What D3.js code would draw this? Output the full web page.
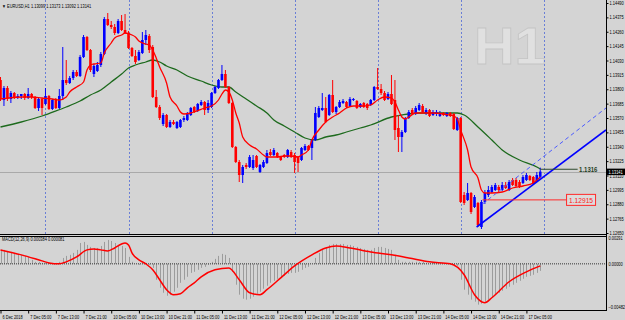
<!DOCTYPE html>
<html>
<head>
<meta charset="utf-8">
<script src="https://cdn.jsdelivr.net/npm/d3@7"></script>
<style>
  html, body { margin: 0; padding: 0; background: #d4d4d4; }
  svg { display: block; font-family: "Liberation Sans", Arial, sans-serif; }
</style>
</head>
<body>
<svg id="chart" width="625" height="320"></svg>
<script>
// EURUSD H1 bars, 6 Dec 21:00 .. 17 Dec 09:00 (bar index 0..156)
const openP = [1.13874,1.13714,1.13810,1.13722,1.13770,1.13738,1.13746,1.13762,1.13730,1.13762,
  1.13738,1.13650,1.13722,1.13682,1.13746,1.13642,1.13714,1.13650,1.13746,1.13874,
  1.13850,1.13890,1.13938,1.13906,1.14058,1.14218,1.14114,1.13922,1.13946,1.13994,
  1.14082,1.14362,1.14314,1.14298,1.14250,1.14346,1.14274,1.14250,1.14130,1.14066,
  1.14034,1.14090,1.14194,1.14226,1.14138,1.13738,1.13658,1.13522,1.13594,1.13498,
  1.13538,1.13490,1.13498,1.13554,1.13554,1.13594,1.13658,1.13626,1.13674,1.13698,
  1.13634,1.13658,1.13770,1.13810,1.13874,1.13922,1.13818,1.13690,1.13338,1.13218,
  1.13114,1.13194,1.13178,1.13170,1.13266,1.13138,1.13178,1.13210,1.13298,1.13274,
  1.13290,1.13258,1.13274,1.13258,1.13298,1.13274,1.13258,1.13234,1.13314,1.13346,
  1.13330,1.13394,1.13578,1.13634,1.13650,1.13594,1.13754,1.13618,1.13658,1.13690,
  1.13698,1.13666,1.13714,1.13706,1.13658,1.13690,1.13682,1.13674,1.13714,1.13818,
  1.13802,1.13770,1.13722,1.13762,1.13714,1.13490,1.13418,1.13458,1.13570,1.13634,
  1.13602,1.13634,1.13666,1.13610,1.13634,1.13594,1.13602,1.13586,1.13610,1.13586,
  1.13610,1.13602,1.13474,1.13570,1.12954,1.12914,1.12970,1.12858,1.12890,1.12698,
  1.12898,1.12954,1.12978,1.12994,1.13018,1.12994,1.13034,1.12994,1.13074,1.13074,
  1.13058,1.13050,1.13074,1.13106,1.13098,1.13066,1.13099];
const highP = [1.13898,1.13826,1.13826,1.13786,1.13778,1.13762,1.13762,1.13770,1.13810,1.13770,
  1.13746,1.13738,1.13730,1.13810,1.13754,1.13722,1.13730,1.13802,1.14138,1.14034,
  1.13906,1.13954,1.13954,1.14074,1.14234,1.14226,1.14122,1.14002,1.14018,1.14098,
  1.14378,1.14410,1.14346,1.14322,1.14362,1.14394,1.14402,1.14266,1.14138,1.14114,
  1.14114,1.14258,1.14274,1.14242,1.14154,1.13794,1.13674,1.13610,1.13602,1.13554,
  1.13554,1.13546,1.13562,1.13586,1.13618,1.13658,1.13666,1.13690,1.13714,1.13706,
  1.13714,1.13778,1.13826,1.13882,1.13994,1.13954,1.13826,1.13698,1.13346,1.13234,
  1.13194,1.13210,1.13274,1.13274,1.13274,1.13202,1.13234,1.13314,1.13322,1.13330,
  1.13298,1.13266,1.13282,1.13322,1.13314,1.13290,1.13266,1.13338,1.13362,1.13354,
  1.13402,1.13658,1.13666,1.13770,1.13738,1.13762,1.13874,1.13666,1.13714,1.13722,
  1.13706,1.13738,1.13730,1.13714,1.13690,1.13698,1.13690,1.13722,1.13826,1.13970,
  1.13842,1.13786,1.13778,1.13914,1.13874,1.13594,1.13474,1.13578,1.13634,1.13650,
  1.13666,1.13690,1.13682,1.13650,1.13642,1.13634,1.13634,1.13626,1.13618,1.13618,
  1.13618,1.13610,1.13578,1.13578,1.12978,1.13050,1.12978,1.12954,1.12898,1.12914,
  1.12994,1.13026,1.13034,1.13050,1.13034,1.13058,1.13058,1.13074,1.13090,1.13090,
  1.13074,1.13114,1.13130,1.13114,1.13106,1.13138,1.13173];
const lowP = [1.13706,1.13666,1.13706,1.13690,1.13722,1.13722,1.13722,1.13714,1.13722,1.13722,
  1.13642,1.13626,1.13594,1.13674,1.13634,1.13634,1.13642,1.13642,1.13714,1.13834,
  1.13842,1.13874,1.13898,1.13898,1.14050,1.14106,1.13938,1.13898,1.13938,1.13978,
  1.14074,1.14306,1.14282,1.14234,1.14242,1.14266,1.14242,1.14122,1.14058,1.14002,
  1.14026,1.14082,1.14154,1.14090,1.13730,1.13650,1.13554,1.13506,1.13490,1.13490,
  1.13514,1.13482,1.13490,1.13538,1.13546,1.13586,1.13610,1.13618,1.13666,1.13594,
  1.13610,1.13650,1.13762,1.13802,1.13866,1.13810,1.13682,1.13330,1.13210,1.13058,
  1.13050,1.13162,1.13170,1.13154,1.13170,1.13130,1.13170,1.13202,1.13266,1.13266,
  1.13250,1.13226,1.13250,1.13250,1.13250,1.13130,1.13138,1.13226,1.13306,1.13306,
  1.13234,1.13386,1.13570,1.13626,1.13530,1.13586,1.13610,1.13602,1.13650,1.13682,
  1.13650,1.13658,1.13706,1.13642,1.13650,1.13650,1.13634,1.13666,1.13706,1.13794,
  1.13754,1.13706,1.13714,1.13674,1.13394,1.13298,1.13298,1.13450,1.13562,1.13594,
  1.13594,1.13626,1.13610,1.13594,1.13578,1.13586,1.13586,1.13578,1.13586,1.13578,
  1.13578,1.13474,1.13466,1.12890,1.12874,1.12906,1.12802,1.12850,1.12698,1.12682,
  1.12882,1.12938,1.12970,1.12986,1.12978,1.12986,1.13002,1.12986,1.13026,1.13018,
  1.13010,1.13042,1.13066,1.13066,1.13042,1.13058,1.13092];
const closeP = [1.13722,1.13810,1.13722,1.13770,1.13738,1.13746,1.13762,1.13730,1.13762,1.13738,
  1.13650,1.13722,1.13650,1.13746,1.13642,1.13714,1.13650,1.13746,1.13874,1.13850,
  1.13890,1.13938,1.13906,1.14058,1.14218,1.14114,1.13954,1.13986,1.13994,1.14082,
  1.14362,1.14314,1.14298,1.14250,1.14346,1.14274,1.14250,1.14130,1.14066,1.14018,
  1.14098,1.14194,1.14234,1.14114,1.13738,1.13658,1.13570,1.13594,1.13498,1.13538,
  1.13522,1.13538,1.13554,1.13570,1.13610,1.13650,1.13618,1.13682,1.13698,1.13634,
  1.13690,1.13770,1.13818,1.13874,1.13922,1.13818,1.13690,1.13338,1.13218,1.13114,
  1.13178,1.13178,1.13258,1.13234,1.13178,1.13194,1.13218,1.13290,1.13274,1.13314,
  1.13258,1.13234,1.13258,1.13314,1.13258,1.13218,1.13210,1.13330,1.13346,1.13314,
  1.13394,1.13610,1.13650,1.13650,1.13538,1.13754,1.13618,1.13658,1.13698,1.13706,
  1.13658,1.13722,1.13722,1.13650,1.13682,1.13658,1.13650,1.13714,1.13818,1.13802,
  1.13770,1.13714,1.13762,1.13682,1.13474,1.13418,1.13458,1.13570,1.13618,1.13602,
  1.13650,1.13674,1.13618,1.13634,1.13586,1.13618,1.13618,1.13610,1.13594,1.13610,
  1.13586,1.13482,1.13570,1.12898,1.12890,1.12970,1.12818,1.12938,1.12714,1.12898,
  1.12970,1.12994,1.13018,1.13034,1.12994,1.13034,1.13010,1.13058,1.13034,1.13026,
  1.13018,1.13098,1.13114,1.13074,1.13050,1.13114,1.13141];

// moving averages: [bar, price]
const fastMA = [[0,1.13722],[6,1.13738],[9,1.13738],[12,1.1373],[15,1.13722],[17,1.13714],[19,1.13738],
  [20,1.13778],[22,1.13818],[24,1.13858],[25,1.13954],[26,1.13994],[27,1.14002],[29,1.1401],[30,1.1409],
  [32,1.1417],[33,1.1421],[35,1.14234],[36,1.1425],[38,1.14234],[39,1.14218],[40,1.14186],[42,1.14162],
  [43,1.14154],[44,1.14114],[45,1.1405],[46,1.13978],[48,1.1385],[49,1.13738],[51,1.13666],[52,1.13618],
  [53,1.13602],[55,1.1361],[56,1.13618],[59,1.1365],[61,1.13666],[63,1.13714],[64,1.13762],[65,1.13794],
  [66,1.13778],[67,1.13714],[68,1.1361],[69,1.1353],[70,1.13418],[72,1.13354],[74,1.13322],[76,1.13274],
  [77,1.13258],[80,1.13258],[82,1.13266],[84,1.13266],[86,1.13258],[87,1.13274],[89,1.13314],[90,1.13394],
  [92,1.13474],[94,1.13538],[96,1.13578],[98,1.1361],[100,1.1365],[102,1.13666],[105,1.13666],[107,1.13674],
  [109,1.13714],[111,1.13738],[113,1.1373],[114,1.13698],[115,1.13634],[116,1.13578],[117,1.13562],
  [118,1.13578],[120,1.1361],[125,1.1361],[128,1.13602],[131,1.13586],[132,1.13562],[133,1.13474],
  [135,1.13314],[136,1.13178],[138,1.1309],[139,1.12994],[140,1.1297],[142,1.1297],[145,1.12978],
  [148,1.1301],[151,1.13026],[154,1.1305],[156,1.13098]];
const slowMA = [[0,1.13498],[6,1.13538],[12,1.13586],[16,1.13626],[19,1.13658],[23,1.13706],[26,1.13754],
  [29,1.13794],[32,1.13858],[35,1.13922],[37,1.1397],[39,1.13994],[42,1.14018],[44,1.14034],[46,1.14018],
  [48,1.13986],[51,1.13954],[54,1.13906],[58,1.13866],[61,1.13834],[64,1.13818],[66,1.13818],[68,1.13778],
  [71,1.13722],[74,1.13666],[77,1.1361],[79,1.13554],[82,1.13506],[85,1.13458],[88,1.1341],[91,1.13394],
  [94,1.13418],[97,1.13434],[100,1.13458],[104,1.1349],[107,1.13514],[113,1.13578],[116,1.13594],
  [121,1.1361],[126,1.1361],[132,1.1361],[134,1.13594],[138,1.13498],[142,1.13394],[145,1.13314],
  [150,1.13234],[155,1.13178],[156,1.13162]];

// MACD(12,26,9): main as histogram (one per bar), signal read at sample bars
const macdMain = [0.00146,0.00146,0.00135,0.00125,0.00114,0.00104,0.00094,0.00083,0.00073,0.00042,
  0.00021,0.00021,0.0001,0.0001,0.0001,0.0001,0.0001,0.00021,0.00062,0.00083,
  0.00094,0.00114,0.00146,0.00218,0.00229,0.00198,0.00177,0.00166,0.00166,0.00187,
  0.00229,0.0025,0.00239,0.00218,0.00198,0.00187,0.00166,0.00073,0.00021,0,
  -0.0001,0,0.0001,-0.0001,-0.00042,-0.00166,-0.0025,-0.00302,-0.00333,-0.00322,
  -0.00291,-0.0025,-0.00198,-0.00166,-0.00135,-0.00094,-0.00083,-0.00062,-0.00042,-0.00031,
  -0.0001,0.00021,0.00052,0.00083,0.00104,0.00094,0.00062,-0.00083,-0.00218,-0.00322,
  -0.00364,-0.00374,-0.00364,-0.00343,-0.00312,-0.00291,-0.0026,-0.00229,-0.00198,-0.00177,
  -0.00156,-0.00146,-0.00125,-0.00104,-0.00094,-0.00094,-0.00083,-0.00062,-0.00042,-0.00031,
  0,0.00062,0.00114,0.00156,0.00166,0.00198,0.00208,0.00208,0.00208,0.00208,
  0.00198,0.00198,0.00187,0.00177,0.00166,0.00156,0.00146,0.00146,0.00166,0.00177,
  0.00177,0.00166,0.00156,0.00146,0.00094,0.00042,0.00021,0.00021,0.00021,0.00021,
  0.00021,0.00021,0.00021,0.0001,0.0001,0.0001,0.0001,0,0,0,
  0,-0.00021,-0.00021,-0.00166,-0.0027,-0.00322,-0.00374,-0.00395,-0.00426,-0.00416,
  -0.00395,-0.00374,-0.00354,-0.00322,-0.00302,-0.00281,-0.0026,-0.00239,-0.00218,-0.00198,
  -0.00177,-0.00156,-0.00135,-0.00125,-0.00114,-0.00094,-0.00073];
const macdSignal = [[0,0.00146],[6,0.00094],[12,0.00031],[14,0.0001],[17,0],[19,0.00021],[22,0.00073],
  [25,0.00146],[27,0.00156],[29,0.00146],[31,0.00135],[33,0.00166],[35,0.00208],[36,0.00218],[37,0.00198],
  [38,0.00114],[40,0.00042],[42,0],[44,-0.00062],[46,-0.00166],[48,-0.0027],[50,-0.00322],[52,-0.00312],
  [54,-0.0025],[56,-0.00198],[58,-0.00135],[62,-0.00062],[66,-0.00042],[69,-0.00166],[72,-0.00302],
  [75,-0.00322],[77,-0.0027],[81,-0.00146],[85,-0.00021],[90,0.00094],[94,0.00166],[97,0.00187],
  [101,0.00166],[107,0.00125],[113,0.00094],[118,0.00062],[124,0.00021],[130,0],[134,-0.00114],
  [137,-0.00322],[140,-0.00406],[142,-0.00354],[147,-0.00187],[152,-0.00083],[156,-0.00021]];

const priceTicks = [1.1449,1.14375,1.1426,1.14145,1.1403,1.13915,1.138,1.13685,1.1357,1.13455,
  1.1334,1.13225,1.1311,1.12995,1.1288,1.12765,1.1265];
const timeTickBars = [0,8,16,24,32,40,48,56,64,72,80,88,96,104,112,120,128,136,144,152];
const timeTickLabels = ["6 Dec 2018","7 Dec 05:00","7 Dec 13:00","7 Dec 21:00","10 Dec 05:00",
  "10 Dec 13:00","10 Dec 21:00","11 Dec 05:00","11 Dec 13:00","11 Dec 21:00","12 Dec 05:00",
  "12 Dec 13:00","12 Dec 21:00","13 Dec 05:00","13 Dec 13:00","13 Dec 21:00","14 Dec 05:00",
  "14 Dec 13:00","14 Dec 21:00","17 Dec 05:00"];
const separatorBars = [13,37,61,85,109,133,157];
const macdLevels = [0.00291, 0, -0.00482];

// drawn objects
const trendSolid = [[137.6,1.12698],[175,1.13474]];
const trendDashed = [[139.3,1.12882],[175,1.1365]];
const redLevel = {from: 139.3, to: 163.6, price: 1.12915, label: "1.12915"};
const greenLevel = {from: 156, to: 166.8, price: 1.1316, label: "1.1316"};
const lastBar = {o: 1.13099, h: 1.13173, l: 1.13092, c: 1.13141};

const AXIS_X = 606, MAIN_BOTTOM = 234, MACD_TOP = 236, MACD_BOTTOM = 310;
const SMALL = 5, NARROW = 0.79;
const svg = d3.select("#chart");

const x = d3.scaleLinear().domain([0, 175]).range([0.5, AXIS_X]);
const y = d3.scaleLinear().domain([1.1265, 1.1449]).range([233, 3]);
const ym = d3.scaleLinear().domain([-0.00482, 0.00291]).range([MACD_BOTTOM, MACD_TOP]);

// terminal text is narrow: squeeze horizontally around the text's own x
function narrow(sel, k = NARROW) {
  sel.each(function() {
    const t = d3.select(this);
    const x0 = +t.attr("x") || 0;
    t.attr("x", x0 / k).attr("transform", `scale(${k},1)`);
  });
}

svg.append("rect").attr("width", 625).attr("height", 320).attr("fill", "#d4d4d4");

const defs = svg.append("defs");
defs.append("clipPath").attr("id", "clipMain")
  .append("rect").attr("x", 0).attr("y", 0).attr("width", AXIS_X).attr("height", MAIN_BOTTOM);
defs.append("clipPath").attr("id", "clipMacd")
  .append("rect").attr("x", 0).attr("y", MACD_TOP).attr("width", AXIS_X).attr("height", MACD_BOTTOM - MACD_TOP);

const main = svg.append("g").attr("clip-path", "url(#clipMain)");

// H1 watermark
main.append("text")
  .attr("x", 474).attr("y", 64)
  .attr("font-size", 52).attr("font-weight", "bold")
  .attr("fill", "#e0e0e0").attr("stroke", "#c4c4c4").attr("stroke-width", 0.8)
  .text("H1").call(narrow, 1.08);

// period separators
main.selectAll(".sep").data(separatorBars).enter().append("line")
  .attr("x1", d => Math.round(x(d)) + 0.5).attr("x2", d => Math.round(x(d)) + 0.5)
  .attr("y1", 0).attr("y2", MAIN_BOTTOM)
  .attr("stroke", "#6a7fd6").attr("stroke-width", 1).attr("stroke-dasharray", "2,2");

// bid line
main.append("line")
  .attr("x1", 0).attr("x2", AXIS_X)
  .attr("y1", Math.round(y(lastBar.c)) + 0.5).attr("y2", Math.round(y(lastBar.c)) + 0.5)
  .attr("stroke", "#a9a9a9").attr("stroke-width", 1);

// slow MA
const lineMA = d3.line().x(d => x(d[0])).y(d => y(d[1])).curve(d3.curveMonotoneX);
main.append("path").attr("d", lineMA(slowMA))
  .attr("fill", "none").attr("stroke", "#1d6a1d").attr("stroke-width", 1.3);

// candles
const bars = openP.map((o, i) => ({i, o, h: highP[i], l: lowP[i], c: closeP[i]}));
const colorOf = d => d.c >= d.o ? "#0000ff" : "#ff0000";
const candle = main.selectAll(".bar").data(bars).enter().append("g");
candle.append("line")
  .attr("x1", d => x(d.i)).attr("x2", d => x(d.i))
  .attr("y1", d => y(d.h)).attr("y2", d => y(d.l))
  .attr("stroke", colorOf).attr("stroke-width", 1);
candle.append("rect")
  .attr("x", d => x(d.i) - 1.3).attr("width", 2.6)
  .attr("y", d => y(Math.max(d.o, d.c)))
  .attr("height", d => Math.max(1, Math.abs(y(d.o) - y(d.c))))
  .attr("fill", colorOf);

// fast MA
main.append("path").attr("d", lineMA(fastMA))
  .attr("fill", "none").attr("stroke", "#ff0000").attr("stroke-width", 1.3);

// trend lines
const lineT = d3.line().x(d => x(d[0])).y(d => y(d[1]));
main.append("path").attr("d", lineT(trendDashed))
  .attr("fill", "none").attr("stroke", "#4d5cff").attr("stroke-width", 1).attr("stroke-dasharray", "4,3");
main.append("path").attr("d", lineT(trendSolid))
  .attr("fill", "none").attr("stroke", "#0000ff").attr("stroke-width", 1.6);

// horizontal levels
main.append("line")
  .attr("x1", x(redLevel.from)).attr("x2", x(redLevel.to))
  .attr("y1", y(redLevel.price)).attr("y2", y(redLevel.price))
  .attr("stroke", "#ff2a2a").attr("stroke-width", 1);
main.append("rect")
  .attr("x", x(redLevel.to)).attr("y", y(redLevel.price) - 5.5)
  .attr("width", 29).attr("height", 11)
  .attr("fill", "#dcdcdc").attr("stroke", "#ff2a2a").attr("stroke-width", 1);
main.append("text")
  .attr("x", x(redLevel.to) + 2.5).attr("y", y(redLevel.price) + 3)
  .attr("font-size", 8).attr("fill", "#ff2020")
  .text(redLevel.label).call(narrow, 0.83);

main.append("line")
  .attr("x1", x(greenLevel.from)).attr("x2", x(greenLevel.to))
  .attr("y1", y(greenLevel.price)).attr("y2", y(greenLevel.price))
  .attr("stroke", "#2e4a2e").attr("stroke-width", 1.2);
main.append("text")
  .attr("x", x(greenLevel.to) + 1.5).attr("y", y(greenLevel.price) + 2.7)
  .attr("font-size", 7.5).attr("font-weight", "bold").attr("fill", "#1f401f")
  .text(greenLevel.label).call(narrow, 0.8);

// title
svg.append("text").attr("x", 2).attr("y", 8.5).attr("font-size", SMALL).attr("fill", "#000")
  .text("\u25BC EURUSD,H1  " + [lastBar.o, lastBar.h, lastBar.l, lastBar.c].map(d3.format(".5f")).join(" "))
  .call(narrow);

// panel borders
svg.append("line").attr("x1", 0).attr("x2", AXIS_X).attr("y1", MAIN_BOTTOM + 0.5).attr("y2", MAIN_BOTTOM + 0.5)
  .attr("stroke", "#000");
svg.append("line").attr("x1", 0).attr("x2", AXIS_X).attr("y1", MACD_TOP + 0.5).attr("y2", MACD_TOP + 0.5)
  .attr("stroke", "#000");
svg.append("line").attr("x1", 0).attr("x2", AXIS_X).attr("y1", MACD_BOTTOM + 0.5).attr("y2", MACD_BOTTOM + 0.5)
  .attr("stroke", "#000");
svg.append("line").attr("x1", AXIS_X + 0.5).attr("x2", AXIS_X + 0.5).attr("y1", 0).attr("y2", MACD_BOTTOM + 1)
  .attr("stroke", "#000");

// price axis
const pAxis = svg.append("g").attr("transform", `translate(${AXIS_X + 0.5},0)`)
  .call(d3.axisRight(y).tickValues(priceTicks).tickSize(2).tickPadding(1).tickFormat(d3.format(".5f")));
pAxis.select(".domain").remove();
pAxis.selectAll("line").attr("stroke", "#000");
pAxis.selectAll("text").attr("font-size", SMALL).attr("fill", "#000")
  .attr("font-family", "Liberation Sans, Arial, sans-serif").call(narrow);

// last price tag
svg.append("rect").attr("x", AXIS_X + 1).attr("y", y(lastBar.c) - 3).attr("width", 18).attr("height", 6.5).attr("fill", "#000");
svg.append("text").attr("x", AXIS_X + 2.5).attr("y", y(lastBar.c) + 1.9)
  .attr("font-size", SMALL).attr("fill", "#fff").text(d3.format(".5f")(lastBar.c)).call(narrow);

// MACD panel
const macd = svg.append("g").attr("clip-path", "url(#clipMacd)");
macd.selectAll(".hist").data(macdMain).enter().append("line")
  .attr("x1", (d, i) => Math.round(x(i)) + 0.5).attr("x2", (d, i) => Math.round(x(i)) + 0.5)
  .attr("y1", ym(0)).attr("y2", d => ym(d))
  .attr("stroke", "#9c9c9c").attr("stroke-width", 1);
macd.append("line").attr("x1", 0).attr("x2", AXIS_X).attr("y1", ym(0)).attr("y2", ym(0))
  .attr("stroke", "#333").attr("stroke-width", 1).attr("stroke-dasharray", "1,1");
const lineM = d3.line().x(d => x(d[0])).y(d => ym(d[1])).curve(d3.curveMonotoneX);
macd.append("path").attr("d", lineM(macdSignal))
  .attr("fill", "none").attr("stroke", "#ff0000").attr("stroke-width", 1.5);

svg.append("text").attr("x", 2).attr("y", MACD_TOP + 5.5).attr("font-size", SMALL).attr("fill", "#000")
  .text("MACD(12,26,9) 0.000384 0.000081").call(narrow);

svg.selectAll(".mlev").data(macdLevels).enter().append("text")
  .attr("x", AXIS_X + 2.5)
  .attr("y", (d, i) => ym(d) + (i === 0 ? 4.5 : i === 2 ? -1 : 1.8))
  .attr("font-size", SMALL).attr("fill", "#000")
  .text(d => d3.format(".5f")(d)).call(narrow);

// time axis
const tAxis = svg.append("g").attr("transform", `translate(0,${MACD_BOTTOM + 0.5})`)
  .call(d3.axisBottom(x).tickValues(timeTickBars).tickSize(3)
    .tickFormat((d, i) => timeTickLabels[i]));
tAxis.select(".domain").remove();
tAxis.selectAll("line").attr("stroke", "#000");
tAxis.selectAll("text").attr("font-size", SMALL).attr("fill", "#000")
  .attr("text-anchor", "start").attr("x", 1.5).attr("dy", "0.45em")
  .attr("font-family", "Liberation Sans, Arial, sans-serif").call(narrow);
</script>
</body>
</html>
